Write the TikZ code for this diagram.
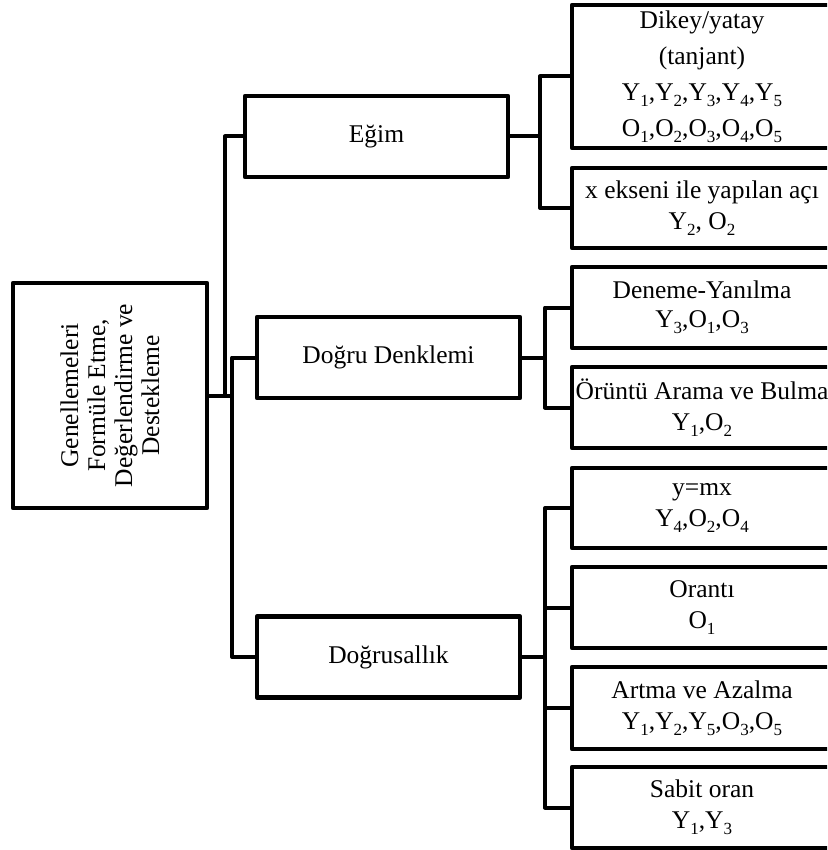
\documentclass[tikz,border=0pt]{standalone}
\usepackage{fontspec}
\setmainfont{Liberation Serif}
\usepackage{graphicx}
% lowered subscript digits
\newcommand\sbs[1]{\raisebox{-6pt}{\fontsize{17}{17}\selectfont #1}}
\begin{document}
\begin{tikzpicture}[x=1pt,y=-1pt,
  box/.style={draw, line width=4.5pt, line join=round, inner sep=0pt,
    align=center, font=\fontsize{25.5}{31}\selectfont},
  lvl/.style={box, minimum width=263pt, minimum height=81pt},
  leaf/.style={box, minimum width=260pt, minimum height=81pt},
  link/.style={line width=4pt, line join=round}]
\useasboundingbox (0,0) rectangle (827,850);
\clip (0,0) rectangle (827,850);

% root
\node[box, minimum width=194pt, minimum height=225pt] (root) at (110,395.5)
  {\rotatebox{90}{\begin{minipage}{200pt}\centering\fontsize{25.5}{27}\selectfont
   Genellemeleri\\Formüle Etme,\\Değerlendirme ve\\Destekleme\end{minipage}}};

% first level
\node[lvl] (egim)     at (376.5,136.5) {Eğim};
\node[lvl] (dogru)    at (388.5,357.5) {Doğru Denklemi};
\node[lvl] (dogrusal) at (388.5,657)   {Doğrusallık};

% leaves
\node[leaf, minimum height=143pt, font=\fontsize{25.5}{36}\selectfont] (dikey) at (702,76.5)
  {Dikey/yatay\\(tanjant)\\Y\sbs{1},Y\sbs{2},Y\sbs{3},Y\sbs{4},Y\sbs{5}\\O\sbs{1},O\sbs{2},O\sbs{3},O\sbs{4},O\sbs{5}};
\node[leaf, minimum height=80pt] (xek) at (702,208)
  {x ekseni ile yapılan açı\\Y\sbs{2}, O\sbs{2}};
\node[leaf] (deneme) at (702,307.5)
  {Deneme-Yanılma\\[-2pt]Y\sbs{3},O\sbs{1},O\sbs{3}};
\node[leaf] (oruntu) at (702,407.5)
  {Örüntü Arama ve Bulma\\Y\sbs{1},O\sbs{2}};
\node[leaf, minimum height=80pt] (ymx) at (702,508)
  {y=mx\\Y\sbs{4},O\sbs{2},O\sbs{4}};
\node[leaf] (oranti) at (702,607.5)
  {Orantı\\O\sbs{1}};
\node[leaf, minimum height=82pt] (artma) at (702,708)
  {Artma ve Azalma\\Y\sbs{1},Y\sbs{2},Y\sbs{5},O\sbs{3},O\sbs{5}};
\node[leaf] (sabit) at (702,807.5)
  {Sabit oran\\Y\sbs{1},Y\sbs{3}};

% elbow columns
\coordinate (jA) at (225,0);
\coordinate (jB) at (232,0);
\coordinate (jC) at (540,0);
\coordinate (jD) at (545,0);

% root to first level
\draw[link] (root.east) -- (root.east -| jB);
\draw[link] (root.east -| jA) |- (egim.west);
\draw[link] (root.east -| jB) |- (dogru.west);
\draw[link] (root.east -| jB) |- (dogrusal.west);

% Eğim branch
\draw[link] (egim.east) -- (egim.east -| jC);
\draw[link] (egim.east -| jC) |- (dikey.west);
\draw[link] (egim.east -| jC) |- (xek.west);

% Doğru Denklemi branch
\draw[link] (dogru.east) -- (dogru.east -| jD);
\draw[link] (dogru.east -| jD) |- (deneme.west);
\draw[link] (dogru.east -| jD) |- (oruntu.west);

% Doğrusallık branch
\draw[link] (dogrusal.east) -- (dogrusal.east -| jD);
\draw[link] (dogrusal.east -| jD) |- (ymx.west);
\draw[link] (dogrusal.east -| jD) |- (oranti.west);
\draw[link] (dogrusal.east -| jD) |- (artma.west);
\draw[link] (dogrusal.east -| jD) |- (sabit.west);
\end{tikzpicture}
\end{document}
